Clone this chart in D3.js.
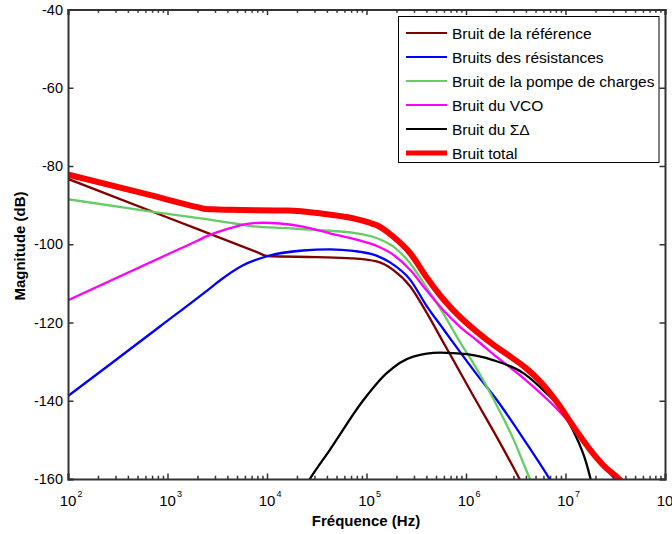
<!DOCTYPE html>
<html><head><meta charset="utf-8">
<script src="https://cdn.jsdelivr.net/npm/d3@7"></script>
<style>body{margin:0;background:#fff}svg{display:block}</style>
</head><body>
<script>
// log10(frequency) and magnitude (dB) for each series
const seriesNames = ["Bruit de la référence","Bruits des résistances","Bruit de la pompe de charges","Bruit du VCO","Bruit du ΣΔ","Bruit total"];
const seriesColors = ["#800000","#0000ff","#66cc66","#ff00ff","#000000","#ff0000"];
const seriesWidths = [2.3,2.3,2.3,2.3,2.3,6];

const refLogF = [2.0,3.0,3.9,4.0,4.5,4.85,5.1,5.27,5.44,5.6,5.77,5.85,6.07,6.31,6.53,6.6];
const refDb   = [-83.3,-93.15,-102.0,-103.0,-103.3,-103.6,-104.4,-106.6,-110.8,-117.3,-125.0,-128.6,-138.6,-149.3,-159.6,-163];

const resLogF = [2.0,2.5,2.93,3.43,3.53,3.75,4.01,4.36,4.63,4.87,5.1,5.24,5.44,5.6,5.77,5.91,6.1,6.31,6.6,6.84,6.9];
const resDb   = [-138.8,-129.2,-120.9,-111.2,-109.2,-105.5,-103.0,-101.6,-101.3,-101.7,-102.9,-104.7,-109.1,-115.6,-121.6,-126.5,-133.0,-139.8,-150.6,-160,-162.5];

const cpLogF = [2.0,2.82,3.39,3.6,3.86,4.2,4.53,4.87,5.1,5.27,5.44,5.6,5.77,5.94,6.04,6.27,6.48,6.64,6.7];
const cpDb   = [-88.5,-91.6,-93.6,-94.4,-95.4,-95.9,-96.4,-97.1,-98.4,-100.6,-104.9,-110.9,-117.6,-125.0,-129.0,-139.3,-150.0,-159.8,-163];

const vcoLogF = [2.0,3.0,3.3,3.39,3.63,3.8,3.96,4.13,4.36,4.63,4.9,5.1,5.27,5.44,5.6,5.77,5.94,6.11,6.27,6.58,6.91,7.08,7.25,7.4,7.53];
const vcoDb   = [-114.3,-102.6,-99.1,-98.0,-95.9,-94.8,-94.5,-94.7,-95.5,-97.2,-98.8,-100.4,-102.7,-106.6,-111.7,-116.8,-121.1,-124.6,-128.0,-134.3,-142.0,-146.8,-152.5,-157.3,-161];

const sdLogF = [4.38,4.43,4.63,4.97,5.2,5.47,5.74,6.01,6.27,6.58,6.81,6.91,7.08,7.21,7.25,7.27];
const sdDb   = [-162,-160,-152.6,-139.8,-133.0,-128.7,-127.7,-128.1,-129.6,-133.0,-138.1,-140.7,-147.8,-156.0,-159.8,-162];

const totLogF = [2.0,2.82,3.3,3.39,3.5,3.63,4.2,4.53,4.87,5.03,5.1,5.27,5.44,5.6,5.77,5.94,6.11,6.28,6.45,6.6,6.75,6.91,7.08,7.25,7.4,7.55,7.6];
const totDb   = [-82.2,-87.4,-90.5,-91.0,-91.1,-91.2,-91.4,-92.1,-93.4,-94.5,-95.1,-98.1,-102.3,-108.3,-114.0,-118.6,-122.4,-125.8,-128.8,-131.6,-135.2,-140.2,-146.6,-152.6,-157.0,-160.3,-162];

const yTicks = [-40,-60,-80,-100,-120,-140,-160];
const xDecades = [2,3,4,5,6,7,8];

const seriesLogF = [refLogF,resLogF,cpLogF,vcoLogF,sdLogF,totLogF];
const seriesDb = [refDb,resDb,cpDb,vcoDb,sdDb,totDb];

(function(){
const W = 672, H = 534;
const svg = d3.select("body").append("svg").attr("width",W).attr("height",H);
const font = "'Liberation Sans', Arial, sans-serif";

const x = d3.scaleLog().domain([1e2,1e8]).range([68,665]);
const y = d3.scaleLinear().domain([-160,-40]).range([479,9.5]);

svg.append("defs").append("clipPath").attr("id","clip")
  .append("rect").attr("x",68).attr("y",9.5).attr("width",597).attr("height",469.5);

// curves
const line = d3.line().x(d=>x(Math.pow(10,d[0]))).y(d=>y(d[1])).curve(d3.curveMonotoneX);
const g = svg.append("g").attr("clip-path","url(#clip)");
seriesNames.forEach((n,i)=>{
  const data = seriesLogF[i].map((v,j)=>[v,seriesDb[i][j]]);
  g.append("path").datum(data).attr("d",line)
    .attr("fill","none").attr("stroke",seriesColors[i]).attr("stroke-width",seriesWidths[i])
    .attr("stroke-linejoin","round");
});

// axes (box)
const axCol = "#333";
const minor = [];
for (let d=2; d<8; d++) for (let k=2;k<=9;k++) minor.push(k*Math.pow(10,d));
const majors = xDecades.map(d=>Math.pow(10,d));

const axB = d3.axisBottom(x).tickValues(majors).tickSize(-5.5).tickFormat("");
const axT = d3.axisTop(x).tickValues(majors).tickSize(-5.5).tickFormat("");
const axBm = d3.axisBottom(x).tickValues(minor).tickSize(-3.3).tickFormat("");
const axTm = d3.axisTop(x).tickValues(minor).tickSize(-3.3).tickFormat("");
const axL = d3.axisLeft(y).tickValues(yTicks).tickSize(-5.5).tickFormat("");
const axR = d3.axisRight(y).tickValues(yTicks).tickSize(-5.5).tickFormat("");

function styleAx(sel){
  sel.selectAll("path,line").attr("stroke",axCol).attr("stroke-width",1.5);
  sel.select(".domain").attr("stroke-width",2);
}
svg.append("g").attr("transform","translate(0,479)").call(axB).call(styleAx);
svg.append("g").attr("transform","translate(0,479)").call(axBm).call(styleAx).select(".domain").remove();
svg.append("g").attr("transform","translate(0,9.5)").call(axT).call(styleAx);
svg.append("g").attr("transform","translate(0,9.5)").call(axTm).call(styleAx).select(".domain").remove();
svg.append("g").attr("transform","translate(68,0)").call(axL).call(styleAx);
svg.append("g").attr("transform","translate(665,0)").call(axR).call(styleAx);

// y tick labels
svg.append("g").selectAll("text").data(yTicks).join("text")
  .attr("x",63).attr("y",d=>y(d)).attr("dy","0.36em").attr("text-anchor","end")
  .attr("font-family",font).attr("font-size",14.5).text(d=>d);

// x tick labels 10^n
const xl = svg.append("g").selectAll("g").data(xDecades).join("g")
  .attr("transform",d=>`translate(${x(Math.pow(10,d))},506)`);
xl.append("text").attr("x",0).attr("text-anchor","middle")
  .attr("font-family",font).attr("font-size",15).text("10");
xl.append("text").attr("x",9.5).attr("y",-9).attr("font-family",font).attr("font-size",9).text(d=>d);

// axis titles
svg.append("text").attr("x",366).attr("y",526).attr("text-anchor","middle")
  .attr("font-family",font).attr("font-size",15).attr("font-weight","bold").text("Fréquence (Hz)");
svg.append("text").attr("transform","translate(25,246) rotate(-90)").attr("text-anchor","middle")
  .attr("font-family",font).attr("font-size",15).attr("font-weight","bold").text("Magnitude (dB)");

// legend
const lg = svg.append("g");
lg.append("rect").attr("x",398.5).attr("y",16.5).attr("width",260.5).attr("height",146)
  .attr("fill","#fff").attr("stroke","#000").attr("stroke-width",1);
seriesNames.forEach((n,i)=>{
  const cy = 33 + i*24;
  lg.append("line").attr("x1",406).attr("x2",447).attr("y1",cy).attr("y2",cy)
    .attr("stroke",seriesColors[i]).attr("stroke-width",i===5?5:2);
  lg.append("text").attr("x",452).attr("y",cy).attr("dy","0.36em")
    .attr("font-family",font).attr("font-size",15.5).text(n);
});
})();
</script>
</body></html>
